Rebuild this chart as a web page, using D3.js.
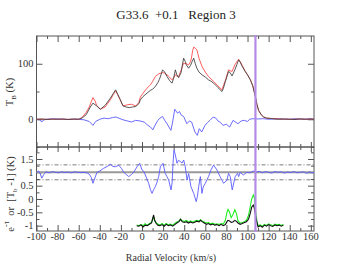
<!DOCTYPE html>
<html><head><meta charset="utf-8">
<script src="https://cdn.jsdelivr.net/npm/d3@7"></script>
<style>
html,body{margin:0;padding:0;background:#fff;}
svg text{font-family:"Liberation Serif","DejaVu Serif",serif;}
</style></head>
<body>
<svg id="c" width="337" height="272" font-family="Liberation Serif, DejaVu Serif, serif"></svg>
<script>
// ---- data ----
const title = "G33.6  +0.1   Region 3";
const xTicks = [-100,-80,-60,-40,-20,0,20,40,60,80,100,120,140,160];
const topTicks = [0,100];
const lowTicks = [-1,-0.5,0,0.5,1,1.5];
const markerVel = 107.5;

// observed T_B (black, top)
const tbVel = [-100,-95,-90,-85,-80,-75,-70,-65,-60,-57,-53,-51,-49,-46.5,-43,-39.5,-35,-30,-27,-25,-23,-21,-18,-15,-12,-9,-6,-3,-1.6,1,4.7,8,10,12.6,15,16.5,18,19.5,21.5,23.7,26,28.4,30,31.6,33,34.7,37,39.4,41,42,44.2,46,47.5,49,50.5,52,54,56.9,60,63,65,67.9,70,72,75.8,77,79,82,83.5,85.3,88,90,91.6,93,95,97.9,100,102.7,105,107.4,109,110.5,113,115.3,118,121.6,126,130,135,140,145,150,155,160,163];
const tbVal = [0,0.5,-0.5,0.5,0,0.5,-0.5,0.3,0,2,8,15,22,29,24,18,25,38,47,53,45,37,24,22,21,22,23,28,35,41,47,52,54,59,66,72,80,89,85,77,70,65,74,89,80,75,84,110,104,98,92,97,104,110,100,92,85,80,76,71,69,65,61,57,50,55,68,86,84,78,89,99,107,103,95,86,80,71,60,41,26,16,8,4,2,1.5,0.5,0,0.5,0,-0.5,0.5,0,0.5,0];

// model (red, top)
const tmVel = [-100,-90,-80,-70,-60,-57,-53,-50,-48,-46.5,-44.5,-43,-39.5,-35,-30,-27,-25,-23,-21,-18,-14,-10,-6,-3,-1.6,1,4.7,8,10,12.6,16,19.5,21.5,23.7,26,28.4,30,31.6,33,34.7,37,39.4,42,44.2,46,47,48,49,50.5,52,54,56.9,60,63,67.9,72,75.8,77,79,82,85.3,88,90,91.6,93,95,97.9,100,102.7,105,107.4,109,110.5,113,115.3,118,121.6,130,140,150,163];
const tmVal = [0,0,0,0,0,3,12,22,32,39,33,25,18,22,35,45,51,44,36,24,26,27,24,30,40,47,56,62,68,77,82,84,83,80,76,71,75,80,78,77,88,101,100,98,104,112,124,130,128,125,110,95,85,77,68,60,53,60,70,89,86,98,104,108,104,97,86,80,71,60,41,26,16,8,4,2,1.5,0.5,0,0.3,0];

// residual (blue, top)
const tdVel = [-100,-97,-95,-93,-90,-85,-80,-75,-70,-65,-60,-55,-50,-46.5,-44,-40,-36,-32,-28,-25,-22,-18,-14,-10,-6,-2,2,5.6,8,10.3,12,15,17,19.5,21.5,23.7,25.5,27.4,29,31,33.7,35.5,36.9,39.4,42.5,45,47,50.2,52.4,54.3,56.6,59.7,62,64.4,67.5,70,72,74.5,76.8,80,83,86.3,88.5,91,94,97,100,102,105,110,115,120,125,130,135,140,145,150,155,160,163];
const tdVal = [0,-1,-5,-1,0,0.5,0.5,0,-0.5,0.3,0,-1,-4,-11,-4,0,2,1,3,4,2,-1,-3,-5,-2,-3,-5,-11,-14,-19,-12,-2,2,5,-2,-8,-14,-20,-5,18,11,14,8,5,-8,-3,-5,-23,-29,-17,-23,-11,-6,-2,4,2,-3,-6,-11,-9,-14,-2,-5,-8,-3,-2,-4,0,1,0.5,1,0,0.5,1,0,0,1,0.5,0,1,0];

// e^-tau (blue, lower)
const etVel = [-100,-98,-96.5,-95,-93,-91,-88,-85,-82,-79,-76,-73,-70,-67,-64,-61,-58,-55,-52,-50,-48,-46.5,-45,-42.7,-40,-36.4,-33,-30,-27.5,-25.3,-22,-19.5,-17.3,-15,-12.6,-10,-7.9,-4.7,-2.2,0,1.5,3.2,6.3,8,9.5,11,12.6,14,15.8,17.4,19.9,22,23.5,25.3,27.5,28.5,29.4,30.3,31.6,33.2,34.5,36.4,38,39.5,41,42.7,44.2,46.4,49,51.4,52.5,53.7,55.3,56.8,58,60,63,65.5,67.8,71,74,77.3,80.4,82,83.6,85.5,88.3,90.5,91.6,93,96,99.2,102.4,105.5,108,111,114,117,120,123,126,129,132,135,138,141,144,147,150,153,156,159,161,163];
const etVal = [1.0,1.05,0.95,0.78,0.92,1.02,0.98,1.03,1.0,0.98,1.02,0.99,1.01,0.98,1.02,1.0,0.99,1.0,0.98,0.93,0.8,0.59,0.75,1.0,1.05,1.15,1.22,1.3,1.22,1.21,1.26,1.15,1.0,0.92,0.84,0.92,1.0,1.21,1.34,1.09,1.05,0.9,0.59,0.35,0.21,0.35,0.46,0.6,0.84,1.21,1.34,0.96,0.85,0.71,0.34,0.6,1.34,1.84,1.65,1.34,1.45,1.4,1.35,1.46,1.21,0.71,0.95,0.46,0.21,-0.1,0.1,0.46,0.84,0.21,0.45,0.59,0.84,1.1,1.27,1.09,0.84,0.59,0.7,0.96,0.84,0.34,0.84,0.96,0.84,1.0,0.9,1.0,0.98,1.05,1.0,1.04,0.98,1.03,1.0,0.97,1.03,1.0,1.02,0.97,1.01,0.99,1.03,0.98,1.0,1.02,0.96,1.02,0.98,1.0];

// [T_b - 1] observed (black, lower) and model (green, lower)
const obVel = [-5,-3,-1,1,3,5,7,9,10,11,12,13.5,15,17,19,21,23,25,27,29,31,33,35,36.5,38,40,42,44,46,48,50,52,54,55.5,57,59,61,63,65,67,69,71,73,75,77,79,80.5,81.5,83,84.5,86,88,89.5,91,93,95,97,99,101,102.5,104,105.5,106.5,107.5,109,110,112,114,116,118,120,122,124,126,128,130,132,134];
const obVal = [-1.0,-1.02,-0.97,-1.05,-0.98,-1.0,-0.95,-0.9,-0.75,-0.6,-0.8,-0.92,-0.98,-1.0,-0.96,-1.02,-0.95,-1.0,-0.97,-1.02,-0.96,-0.9,-0.85,-0.76,-0.85,-0.88,-0.85,-0.9,-0.86,-0.9,-0.87,-0.83,-0.86,-0.8,-0.85,-0.9,-0.95,-0.92,-0.97,-0.94,-0.98,-0.96,-1.0,-0.95,-1.0,-0.96,-0.85,-0.8,-0.82,-0.88,-0.86,-0.8,-0.84,-0.9,-0.95,-0.92,-0.88,-0.85,-0.75,-0.55,-0.3,-0.23,-0.35,-0.6,-0.9,-1.05,-1.0,-1.06,-0.98,-1.02,-0.96,-1.0,-1.03,-0.97,-1.0,-0.98,-1.02,-0.98];
const ogVal = [-0.98,-1.0,-0.95,-1.0,-0.93,-0.98,-0.92,-0.88,-0.78,-0.65,-0.82,-0.9,-0.94,-0.97,-0.92,-0.98,-0.92,-0.97,-0.94,-0.98,-0.92,-0.86,-0.82,-0.76,-0.82,-0.84,-0.8,-0.86,-0.82,-0.86,-0.83,-0.8,-0.83,-0.78,-0.82,-0.86,-0.9,-0.88,-0.93,-0.9,-0.95,-0.93,-0.96,-0.92,-0.94,-0.8,-0.5,-0.39,-0.5,-0.7,-0.6,-0.4,-0.55,-0.82,-0.9,-0.88,-0.85,-0.8,-0.6,-0.3,0.0,0.15,0.05,-0.4,-0.85,-1.0,-0.97,-1.02,-0.95,-0.99,-0.93,-0.97,-1.0,-0.94,-0.97,-0.95,-0.99,-0.95];

// ---- layout ----
const svg = d3.select("#c");
const FF = "Liberation Serif, DejaVu Serif, serif";
const L = 36.5, R = 314, T1 = 36, B1 = 147, B2 = 231;
const x = d3.scaleLinear().domain([-100,163]).range([L,R]);
const y1 = d3.scaleLinear().domain([-50,150]).range([B1,T1]);
const y2 = d3.scaleLinear().domain([-1.2,1.95]).range([B2,B1]);
const axCol = "#555";

function line(xs, ys, sc){
  return d3.line().x((d,i)=>x(xs[i])).y(d=>sc(d))(ys);
}
function styleAxis(g){
  g.select(".domain").remove();
  g.selectAll("line").attr("stroke",axCol).attr("stroke-width",1);
  g.selectAll("text").remove();
}

// frames
svg.append("rect").attr("x",L).attr("y",T1).attr("width",R-L).attr("height",B1-T1).attr("fill","none").attr("stroke",axCol).attr("stroke-width",1);
svg.append("rect").attr("x",L).attr("y",B1).attr("width",R-L).attr("height",B2-B1).attr("fill","none").attr("stroke",axCol).attr("stroke-width",1);

// x ticks
const xMinor = d3.range(-90,165,20);
function xTickSet(yPos, dir, majLen, minLen){
  const mk = (vals,len)=> {
    const ax = (dir>0? d3.axisBottom(x): d3.axisTop(x)).tickValues(vals).tickSize(len).tickSizeOuter(0);
    svg.append("g").attr("transform",`translate(0,${yPos})`).call(ax).call(styleAxis);
  };
  mk(xTicks, majLen); mk(xMinor, minLen);
}
xTickSet(T1, -1, -6, -3);
xTickSet(B1, -1, 5, 3);
xTickSet(B1, 1, 5, 3);
xTickSet(B2, 1, -6, -3);

function yTicks(sc, vals, side, len){
  const ax = (side==="left"? d3.axisLeft(sc): d3.axisRight(sc)).tickValues(vals).tickSize(len).tickSizeOuter(0);
  svg.append("g").attr("transform",`translate(${side==="left"?L:R},0)`).call(ax).call(styleAxis);
}
const lowMinor = [-0.75,-0.25,0.25,0.75,1.25,1.75];
yTicks(y1,topTicks,"left",-6); yTicks(y1,[-50,50],"left",-3);
yTicks(y1,topTicks,"right",-6); yTicks(y1,[-50,50],"right",-3);
yTicks(y2,lowTicks,"left",-6); yTicks(y2,lowMinor,"left",-3);
yTicks(y2,lowTicks,"right",-6); yTicks(y2,lowMinor,"right",-3);

// tick labels
const fs = 10.5;
svg.append("g").selectAll("text").data(topTicks).join("text").attr("font-family",FF)
  .attr("x",L-3).attr("y",d=>y1(d)+3.5).attr("text-anchor","end").attr("font-size",fs).attr("fill","#333").text(d=>d);
svg.append("g").selectAll("text").data(lowTicks).join("text").attr("font-family",FF)
  .attr("x",L-3).attr("y",d=>y2(d)+3.5).attr("text-anchor","end").attr("font-size",fs).attr("fill","#333").text(d=>d);
svg.append("g").selectAll("text").data(xTicks).join("text").attr("font-family",FF)
  .attr("x",d=>x(d)).attr("y",B2+9).attr("text-anchor","middle").attr("font-size",fs).attr("fill","#333").text(d=>d);

// reference lines lower panel
svg.append("line").attr("x1",L).attr("x2",R).attr("y1",y2(1)).attr("y2",y2(1)).attr("stroke","#999").attr("stroke-width",2);
[1.28,0.72].forEach(v=>{
  svg.append("line").attr("x1",L).attr("x2",R).attr("y1",y2(v)).attr("y2",y2(v)).attr("stroke","#444").attr("stroke-width",0.7).attr("stroke-dasharray","4,2,1,2");
});

// curves top
svg.append("path").attr("d",line(tdVel,tdVal,y1)).attr("fill","none").attr("stroke","#5a5aff").attr("stroke-width",0.9);
svg.append("path").attr("d",line(tmVel,tmVal,y1)).attr("fill","none").attr("stroke","#ff4a4a").attr("stroke-width",0.9);
svg.append("path").attr("d",line(tbVel,tbVal,y1)).attr("fill","none").attr("stroke","#444").attr("stroke-width",0.9);

// curves lower
svg.append("path").attr("d",line(etVel,etVal,y2)).attr("fill","none").attr("stroke","#5a5aff").attr("stroke-width",0.9);
svg.append("path").attr("d",line(obVel,ogVal,y2)).attr("fill","none").attr("stroke","#22ee22").attr("stroke-width",1.1);
svg.append("path").attr("d",line(obVel,obVal,y2)).attr("fill","none").attr("stroke","#111").attr("stroke-width",1.1);

// marker line
svg.append("line").attr("x1",x(markerVel)).attr("x2",x(markerVel)).attr("y1",T1-1).attr("y2",B2+1).attr("stroke","#b38ae6").attr("stroke-width",2.2);

// title & labels
svg.append("text").attr("font-family",FF).attr("x",176).attr("y",19).attr("text-anchor","middle").attr("font-size",13).attr("fill","#222").attr("xml:space","preserve").style("white-space","pre").text(title);
svg.append("text").attr("font-family",FF).attr("x",171).attr("y",261).attr("text-anchor","middle").attr("font-size",10).attr("fill","#333").text("Radial Velocity (km/s)");

const yl1 = svg.append("text").attr("font-family",FF).attr("transform","translate(13,92) rotate(-90)").attr("text-anchor","middle").attr("font-size",10.5).attr("fill","#333");
yl1.append("tspan").text("T");
yl1.append("tspan").attr("font-size",7).attr("dy",3).text("B");
yl1.append("tspan").attr("dy",-3).text(" (K)");

const yl2 = svg.append("text").attr("font-family",FF).attr("transform","translate(14,194) rotate(-90)").attr("text-anchor","middle").attr("font-size",10.5).attr("fill","#333").style("white-space","pre");
yl2.append("tspan").text("e");
yl2.append("tspan").attr("font-size",8).attr("dy",-5).text("-τ");
yl2.append("tspan").attr("dy",5).text("  or  [T");
yl2.append("tspan").attr("font-size",7).attr("dy",3).text("b");
yl2.append("tspan").attr("dy",-3).text(" -1] (K)");
</script>
</body></html>
